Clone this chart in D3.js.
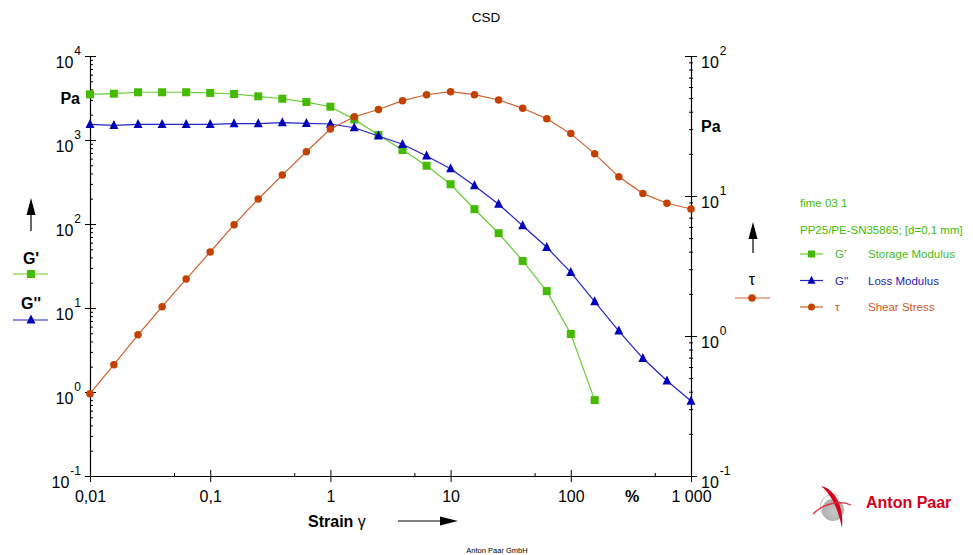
<!DOCTYPE html>
<meta charset="utf-8">
<script src="https://d3js.org/d3.v7.min.js"></script>
<style>
  body { margin: 0; background: #fff; }
  text { font-family: "Liberation Sans", Arial, sans-serif; }
</style>
<div id="chart"></div>
<script>
  // strain in %, 5 points per decade
  var strain = [0.01, 0.0158, 0.0251, 0.0398, 0.0631, 0.1, 0.158, 0.251, 0.398, 0.631,
                1, 1.58, 2.51, 3.98, 6.31, 10, 15.8, 25.1, 39.8, 63.1,
                100, 158, 251, 398, 631, 1000];
  // G' storage modulus (Pa)
  var gStorage = [3500, 3560, 3700, 3700, 3700, 3630, 3530, 3310, 3100, 2830,
                  2490, 1760, 1150, 760, 494, 297, 150, 77.6, 36.3, 15.9,
                  4.9, 0.80];
  // G'' loss modulus (Pa)
  var gLoss = [1538, 1496, 1538, 1538, 1538, 1538, 1563, 1563, 1607, 1580,
               1550, 1400, 1116, 889, 645, 455, 286, 172, 95.5, 52.8,
               26.6, 11.9, 5.32, 2.52, 1.36, 0.78];
  // tau shear stress (Pa)
  var tau = [0.387, 0.624, 1.02, 1.62, 2.55, 3.98, 6.24, 9.52, 14.1, 20.7,
             30.1, 36.8, 41.5, 48, 52.9, 55.6, 52.9, 48.5, 42.3, 35.6,
             27.9, 20, 13.7, 10.4, 8.87, 8.07];

  var xTicks = [0.01, 0.1, 1, 10, 100, 1000];
  var xTickLabels = ["0,01", "0,1", "1", "10", "100", "1 000"];
  var leftTicks = [10000, 1000, 100, 10, 1, 0.1];
  var leftExp = ["4", "3", "2", "1", "0", "-1"];
  var rightTicks = [100, 10, 1, 0.1];
  var rightExp = ["2", "1", "0", "-1"];

  var green = "#44bb00", greenLine = "#66cc33";
  var blue = "#0000bb", blueLine = "#2222cc";
  var orange = "#c44100", orangeLine = "#d0602a";

  var W = 973, H = 555;
  var svg = d3.select("#chart").append("svg")
    .attr("width", W).attr("height", H);

  var x = d3.scaleLog().domain([0.01, 1000]).range([90, 691]);
  var yL = d3.scaleLog().domain([0.1, 10000]).range([476, 56]);
  var yR = d3.scaleLog().domain([0.1, 100]).range([476, 56]);

  function minorOf(lo, hi, steps) {
    var out = [];
    for (var d = lo; d < hi; d *= 10) steps.forEach(function(s){ out.push(d * s); });
    return out;
  }

  // title
  svg.append("text").attr("x", 486).attr("y", 22).attr("text-anchor", "middle")
    .style("font-size", "13.5px").text("CSD");

  // ----- bottom axis
  var gx = svg.append("g").attr("transform", "translate(0,476)")
    .call(d3.axisBottom(x).tickValues(xTicks).tickSizeInner(6).tickSizeOuter(0)
      .tickFormat(function(d, i){ return xTickLabels[i]; }));
  gx.selectAll(".tick line").attr("y1", -6).attr("stroke", "#000");
  gx.selectAll(".tick text").attr("y", 26).attr("dy", 0)
    .style("font-size", "16px").attr("fill", "#000");
  gx.select(".domain").attr("stroke", "#000").attr("stroke-width", 1.2);
  svg.append("g").attr("transform", "translate(0,476)")
    .call(d3.axisBottom(x).tickValues(minorOf(0.01, 1000, [5])).tickSize(-3).tickFormat(""))
    .call(function(g){ g.select(".domain").remove(); });

  // ----- left axis
  var gl = svg.append("g").attr("transform", "translate(90,0)")
    .call(d3.axisLeft(yL).tickValues(leftTicks).tickSizeInner(5).tickSizeOuter(0).tickFormat(""));
  gl.selectAll(".tick line").attr("x1", 6);
  gl.select(".domain").attr("stroke-width", 1.2);
  svg.append("g").attr("transform", "translate(90,0)")
    .call(d3.axisLeft(yL).tickValues(minorOf(0.1, 10000, [2,3,4,5,6,7,8,9])).tickSize(-3).tickFormat(""))
    .call(function(g){ g.select(".domain").remove(); });
  leftTicks.forEach(function(v, i){
    var t = svg.append("text").attr("x", 81).attr("y", yL(v) + 11.5)
      .attr("text-anchor", "end").style("font-size", "16px");
    t.append("tspan").text("10");
    t.append("tspan").attr("dx", 1).attr("dy", -13).style("font-size", "12px").text(leftExp[i]);
  });

  // ----- right axis
  var gr = svg.append("g").attr("transform", "translate(691,0)")
    .call(d3.axisRight(yR).tickValues(rightTicks).tickSizeInner(6).tickSizeOuter(0).tickFormat(""));
  gr.selectAll(".tick line").attr("x1", -6);
  gr.select(".domain").attr("stroke-width", 1.2);
  svg.append("g").attr("transform", "translate(691,0)")
    .call(d3.axisRight(yR).tickValues(minorOf(0.1, 100, [2,3,4,5,6,7,8,9])).tickSize(2).tickFormat(""))
    .call(function(g){ g.select(".domain").remove(); g.selectAll(".tick line").attr("x1", -2); });
  rightTicks.forEach(function(v, i){
    var t = svg.append("text").attr("x", 701).attr("y", yR(v) + 11.5)
      .style("font-size", "16px");
    t.append("tspan").text("10");
    t.append("tspan").attr("dx", 1).attr("dy", -13).style("font-size", "12px").text(rightExp[i]);
  });

  // units and axis titles
  svg.append("text").attr("x", 80).attr("y", 104).attr("text-anchor", "end")
    .style("font-size", "16px").style("font-weight", "bold").text("Pa");
  svg.append("text").attr("x", 701).attr("y", 132)
    .style("font-size", "16px").style("font-weight", "bold").text("Pa");
  svg.append("text").attr("x", 632).attr("y", 502).attr("text-anchor", "middle")
    .style("font-size", "16px").style("font-weight", "bold").text("%");
  var st = svg.append("text").attr("x", 308).attr("y", 527)
    .style("font-size", "16px").style("font-weight", "bold");
  st.append("tspan").text("Strain ");
  st.append("tspan").style("font-weight", "normal").text("\u03b3");

  // arrows
  function upArrow(cx, tip, end) {
    svg.append("line").attr("x1", cx).attr("x2", cx).attr("y1", tip + 10).attr("y2", end)
      .attr("stroke", "#000").attr("stroke-width", 1.2);
    svg.append("path").attr("d", "M" + cx + "," + tip + " L" + (cx + 4.5) + "," + (tip + 17) +
      " L" + (cx - 4.5) + "," + (tip + 17) + "Z").attr("fill", "#000");
  }
  upArrow(31, 198, 231);
  upArrow(753, 222, 253);
  svg.append("line").attr("x1", 398).attr("x2", 445).attr("y1", 521).attr("y2", 521)
    .attr("stroke", "#000").attr("stroke-width", 1.2);
  svg.append("path").attr("d", "M458,521 L440,516.5 L440,525.5Z").attr("fill", "#000");

  // marker helpers
  function square(g, cx, cy, s, col) {
    g.append("rect").attr("x", cx - s / 2).attr("y", cy - s / 2).attr("width", s).attr("height", s)
      .attr("fill", col);
  }
  function triangle(g, cx, cy, s, col) {
    g.append("path").attr("d", "M" + cx + "," + (cy - s * 0.6) + " L" + (cx + s / 2) + "," + (cy + s * 0.4) +
      " L" + (cx - s / 2) + "," + (cy + s * 0.4) + "Z").attr("fill", col);
  }
  function dot(g, cx, cy, s, col) {
    g.append("circle").attr("cx", cx).attr("cy", cy).attr("r", s / 2).attr("fill", col);
  }

  // series
  var series = [
    {vals: gStorage, y: yL, line: greenLine, col: green, mark: square, size: 8},
    {vals: gLoss, y: yL, line: blueLine, col: blue, mark: triangle, size: 9},
    {vals: tau, y: yR, line: orangeLine, col: orange, mark: dot, size: 7.5}
  ];
  series.forEach(function(s){
    var pts = s.vals.map(function(v, i){ return [strain[i], v]; });
    var g = svg.append("g");
    g.append("path").datum(pts)
      .attr("d", d3.line().x(function(d){ return x(d[0]); }).y(function(d){ return s.y(d[1]); }))
      .attr("fill", "none").attr("stroke", s.line).attr("stroke-width", 1.2);
    pts.forEach(function(d){ s.mark(g, x(d[0]), s.y(d[1]), s.size, s.col); });
  });

  // left legend
  svg.append("text").attr("x", 31).attr("y", 264).attr("text-anchor", "middle")
    .style("font-size", "16px").style("font-weight", "bold").text("G'");
  svg.append("line").attr("x1", 13).attr("x2", 48).attr("y1", 274).attr("y2", 274)
    .attr("stroke", greenLine).attr("stroke-width", 1.2);
  square(svg, 31, 274, 8, green);
  svg.append("text").attr("x", 31).attr("y", 309).attr("text-anchor", "middle")
    .style("font-size", "16px").style("font-weight", "bold").text("G''");
  svg.append("line").attr("x1", 13).attr("x2", 48).attr("y1", 320).attr("y2", 320)
    .attr("stroke", blueLine).attr("stroke-width", 1.2);
  triangle(svg, 31, 320, 9, blue);

  // right legend by axis
  svg.append("text").attr("x", 752).attr("y", 285).attr("text-anchor", "middle")
    .style("font-size", "16px").text("\u03c4");
  svg.append("line").attr("x1", 735).attr("x2", 770).attr("y1", 298).attr("y2", 298)
    .attr("stroke", orangeLine).attr("stroke-width", 1.2);
  dot(svg, 752, 298, 7.5, orange);

  // data legend
  var lg = svg.append("g").style("font-size", "11.5px");
  lg.append("text").attr("x", 800).attr("y", 207).attr("fill", green).text("fime 03 1");
  lg.append("text").attr("x", 800).attr("y", 234).attr("fill", green).text("PP25/PE-SN35865; [d=0,1 mm]");
  var items = [
    {sym: "G'", name: "Storage Modulus", line: greenLine, col: green, txt: "#44bb22", mark: square, size: 7},
    {sym: "G''", name: "Loss Modulus", line: blueLine, col: blue, txt: "#2222bb", mark: triangle, size: 8},
    {sym: "\u03c4", name: "Shear Stress", line: orangeLine, col: orange, txt: "#c85a22", mark: dot, size: 7}
  ];
  items.forEach(function(it, i){
    var yy = 254 + i * 26.5;
    lg.append("line").attr("x1", 800).attr("x2", 823).attr("y1", yy).attr("y2", yy)
      .attr("stroke", it.line).attr("stroke-width", 1.2);
    it.mark(lg, 811.5, yy, it.size, it.col);
    lg.append("text").attr("x", 835).attr("y", yy + 4).attr("fill", it.txt).text(it.sym);
    lg.append("text").attr("x", 868).attr("y", yy + 4).attr("fill", it.txt).text(it.name);
  });

  // logo
  var defs = svg.append("defs");
  var rg = defs.append("radialGradient").attr("id", "ball").attr("cx", "55%").attr("cy", "60%");
  rg.append("stop").attr("offset", "0%").attr("stop-color", "#c8c8c8");
  rg.append("stop").attr("offset", "100%").attr("stop-color", "#b0b0b0");
  svg.append("path").attr("d", "M838,496 A12,12 0 1 0 844,510")
    .attr("fill", "none").attr("stroke", "#d4d4d4").attr("stroke-width", 1.5);
  svg.append("circle").attr("cx", 833).attr("cy", 510).attr("r", 11).attr("fill", "url(#ball)");
  svg.append("path").attr("d", "M821,486 C835,489 844,506 842,528 C838,509 832,495 821,486Z")
    .attr("fill", "#d8001c");
  svg.append("path").attr("d", "M813,514 C824,503 840,500 851,505")
    .attr("fill", "none").attr("stroke", "#e0303c").attr("stroke-width", 1.3);
  svg.append("text").attr("x", 866).attr("y", 508)
    .style("font-size", "16px").style("font-weight", "bold").attr("fill", "#d4001a").text("Anton Paar");

  // footer
  svg.append("text").attr("x", 497).attr("y", 553).attr("text-anchor", "middle")
    .style("font-size", "7.5px").text("Anton Paar GmbH");
</script>
